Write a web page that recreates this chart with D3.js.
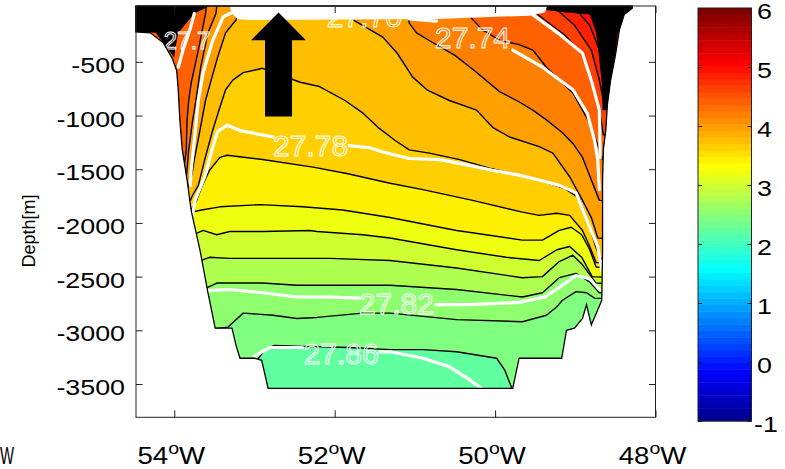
<!DOCTYPE html>
<html><head><meta charset="utf-8">
<script src="https://cdn.jsdelivr.net/npm/d3@7"></script>
<style>body{margin:0;background:#fff}svg{display:block}text{font-family:"Liberation Sans",Arial,sans-serif}</style>
</head><body>
<svg id="c" width="785" height="469"></svg>
<script>
// ---------- data (longitude in degrees West, depth in m) ----------
const lonDomain = [54.477, 48];
const depthDomain = [20, -3810];
const colorDomain = [-1, 6];
const lonTicks = [54, 52, 50, 48];
const depthTicks = [-500, -1000, -1500, -2000, -2500, -3000, -3500];
const colorTicks = [-1, 0, 1, 2, 3, 4, 5, 6];

// bottom / section outline
const section = [[54.48,20],[54.48,-220],[54.30,-230],[54.14,-320],[54.03,-460],[53.97,-580],[53.95,-760],[53.93,-1040],[53.90,-1320],[53.84,-1600],[53.79,-1880],[53.68,-2250],[53.58,-2650],[53.56,-2720],[53.49,-2980],[53.28,-2980],[53.23,-3140],[53.18,-3260],[53.00,-3260],[52.91,-3280],[52.83,-3540],[49.78,-3540],[49.70,-3260],[49.17,-3260],[49.11,-3000],[49.01,-2980],[48.91,-2890],[48.86,-2760],[48.80,-2950],[48.67,-2720],[48.66,-2250],[48.66,-1600],[48.65,-1320],[48.62,-1140],[48.60,-900],[48.56,-670],[48.50,-440],[48.45,-200],[48.39,-60],[48.29,0],[48.29,20]];

// temperature contour levels (deg C) and isotherm traces
const baseLevel = 2.2;
const isoLevels = [2.4, 2.6, 2.8, 3.0, 3.2, 3.4, 3.6, 3.8, 4.0, 4.2, 4.4, 4.6, 4.8, 5.0];
const iso24 = [[53.68,-3290],[52.96,-3270],[52.87,-3180],[52.75,-3140],[52.40,-3150],[51.81,-3160],[51.31,-3180],[50.90,-3180],[50.48,-3200],[49.98,-3260],[49.88,-3370],[49.78,-3560],[49.76,-3840],[47.95,-3840]];
const iso26 = [[53.68,-3000],[53.33,-2970],[53.14,-2840],[52.77,-2860],[52.47,-2890],[52.22,-2880],[51.65,-2840],[51.31,-2840],[50.48,-2900],[49.66,-2920],[49.36,-2860],[49.23,-2780],[49.16,-2720],[48.99,-2640],[48.86,-2650],[48.76,-2700],[47.95,-2720]];
const iso28 = [[54.30,-2620],[53.61,-2610],[53.47,-2560],[52.90,-2560],[52.47,-2580],[52.06,-2580],[51.31,-2580],[50.48,-2620],[49.66,-2690],[49.41,-2650],[49.20,-2510],[48.99,-2470],[48.82,-2550],[48.70,-2650],[47.95,-2670]];
const iso30 = [[54.30,-2360],[53.67,-2350],[53.56,-2320],[53.31,-2330],[52.47,-2330],[52.06,-2330],[51.31,-2350],[50.48,-2420],[49.66,-2510],[49.41,-2500],[49.20,-2360],[49.03,-2300],[48.91,-2390],[48.74,-2560],[47.95,-2580]];
const iso32 = [[54.30,-2110],[53.73,-2100],[53.64,-2070],[53.47,-2110],[53.31,-2080],[52.90,-2080],[52.31,-2070],[52.22,-2080],[51.65,-2110],[51.31,-2140],[50.48,-2250],[49.86,-2320],[49.45,-2350],[49.23,-2250],[49.07,-2220],[48.92,-2320],[48.79,-2500],[47.95,-2530]];
const iso34 = [[54.30,-1900],[53.78,-1900],[53.66,-1880],[53.43,-1850],[52.93,-1830],[52.40,-1850],[51.90,-1880],[51.31,-1950],[50.48,-2070],[49.66,-2160],[49.41,-2160],[49.20,-2070],[49.05,-2040],[48.92,-2110],[48.82,-2250],[48.74,-2410],[47.95,-2440]];
const iso36 = [[54.30,-1860],[53.78,-1870],[53.72,-1790],[53.66,-1670],[53.56,-1510],[53.43,-1390],[53.34,-1370],[52.90,-1410],[52.27,-1480],[51.85,-1540],[51.31,-1630],[50.90,-1690],[50.28,-1790],[49.66,-1900],[49.45,-1930],[49.23,-1910],[49.07,-1930],[48.91,-2070],[48.82,-2220],[48.74,-2370],[47.95,-2400]];
const iso38 = [[54.30,-1790],[53.80,-1790],[53.77,-1740],[53.70,-1650],[53.62,-1410],[53.53,-1160],[53.43,-920],[53.36,-760],[53.27,-670],[53.14,-600],[52.90,-560],[52.68,-620],[52.43,-690],[52.19,-730],[51.87,-860],[51.66,-970],[51.46,-1110],[51.25,-1230],[51.07,-1320],[50.82,-1350],[50.44,-1410],[50.07,-1490],[49.73,-1550],[49.45,-1600],[49.13,-1680],[48.95,-1770],[48.85,-1970],[48.75,-2210],[48.69,-2330],[47.95,-2350]];
const iso40 = [[54.30,-1690],[53.83,-1680],[53.78,-1550],[53.75,-1410],[53.68,-1140],[53.61,-860],[53.54,-670],[53.46,-460],[53.36,-230],[53.23,-110],[53.18,80],[53.18,260],[51.77,260],[51.77,-110],[51.40,-270],[51.22,-420],[51.03,-640],[50.85,-760],[50.57,-860],[50.23,-950],[50.03,-1110],[49.82,-1200],[49.45,-1290],[49.28,-1350],[49.07,-1570],[48.91,-1790],[48.80,-1950],[48.72,-2140],[47.95,-2160]];
const iso42 = [[54.30,-1600],[53.85,-1580],[53.82,-1320],[53.77,-1040],[53.73,-860],[53.67,-550],[53.58,-230],[53.48,-50],[53.46,80],[53.46,260],[51.13,260],[51.07,-140],[50.98,-230],[50.78,-320],[50.50,-440],[50.26,-580],[49.94,-780],[49.73,-860],[49.53,-950],[49.36,-1040],[49.16,-1160],[49.03,-1260],[48.91,-1390],[48.80,-1600],[48.70,-1790],[47.95,-1810]];
const iso44 = [[54.30,-1510],[53.88,-1490],[53.85,-1320],[53.84,-1040],[53.82,-860],[53.79,-700],[53.70,-390],[53.61,-50],[53.59,80],[53.59,260],[50.42,260],[50.35,-50],[50.16,-200],[49.94,-300],[49.70,-340],[49.53,-390],[49.36,-550],[49.20,-670],[49.03,-790],[48.91,-950],[48.82,-1070],[48.74,-1230],[48.66,-1410],[47.95,-1430]];
const iso46 = [[54.60,260],[49.63,260],[49.57,0],[49.38,-110],[49.13,-250],[48.91,-440],[48.79,-720],[48.70,-950],[48.65,-1180],[47.95,-1180]];
const iso48 = [[54.60,260],[49.32,260],[49.25,0],[49.01,-160],[48.80,-390],[48.70,-670],[48.64,-900],[47.95,-900]];
const iso50 = [[54.60,260],[49.07,260],[49.01,0],[48.82,-160],[48.70,-390],[48.61,-670],[47.95,-670]];

// dense near-surface contours (appear black)
const surfaceLeft = [[54.48,20],[53.56,20],[53.75,-50],[53.85,-140],[53.95,-230],[53.99,-390],[54.00,-460],[54.14,-320],[54.23,-230],[54.48,-220]];
const surfaceRight = [[49.41,20],[48.29,20],[48.36,-110],[48.47,-230],[48.51,-480],[48.57,-730],[48.61,-950],[48.66,-950],[48.67,-700],[48.70,-480],[48.74,-230],[48.82,-60],[49.11,-40],[49.35,-20]];
const surfaceWhite = [[53.31,20],[49.35,20],[49.38,-40],[49.57,-70],[50.73,-100],[53.06,-110],[53.21,-100],[53.28,-50]];

// potential density contours (white)
const d2770a = [[53.95,-550],[53.89,-390],[53.80,-190],[53.75,-50]];
const d2770b = [[49.53,-60],[49.22,-230],[48.91,-420],[48.79,-700],[48.70,-950],[48.69,-1390]];
const d2774a = [[53.80,-1650],[53.79,-1510],[53.75,-1230],[53.70,-860],[53.64,-600],[53.52,-300],[53.39,-80],[53.28,-40]];
const d2774b = [[51.07,-100],[50.73,-120]];
const d2774c = [[49.78,-390],[49.41,-550],[49.03,-760],[48.85,-980],[48.76,-1230],[48.72,-1410],[48.70,-1690]];
const d2778a = [[53.79,-1990],[53.74,-1790],[53.62,-1570],[53.53,-1320],[53.46,-1150],[53.34,-1090],[53.18,-1140],[52.77,-1200]];
const d2778b = [[51.82,-1280],[51.56,-1300],[51.40,-1340],[51.07,-1400],[50.69,-1410],[50.35,-1460],[50.03,-1510],[49.73,-1550],[49.45,-1600],[49.20,-1650],[48.99,-1720],[48.82,-2040],[48.72,-2220],[48.67,-2440]];
const d2782a = [[53.57,-2630],[53.31,-2620],[52.90,-2650],[52.47,-2690],[52.06,-2690],[51.69,-2700]];
const d2782b = [[50.74,-2760],[50.32,-2760],[49.70,-2740],[49.38,-2690],[49.20,-2600],[48.99,-2490],[48.82,-2520],[48.70,-2620]];
const d2786a = [[53.00,-3240],[52.81,-3160],[52.40,-3160]];
const d2786b = [[51.44,-3200],[51.31,-3200],[50.90,-3260],[50.57,-3340],[50.32,-3460],[50.17,-3540]];
const densityLabels = ["27.70", "27.74", "27.78", "27.82", "27.86", "27.7"];
const densityLabelPos = [[51.63,-80],[50.28,-270],[52.30,-1280],[51.23,-2750],[51.92,-3220],[53.84,-300]];
const densityLabelSize = [30, 30, 30, 30, 30, 24];

// arrow annotation
const arrowLon = 52.70, arrowTip = -40, arrowHead = -300, arrowTail = -1010;

// ---------- drawing ----------
const svg = d3.select("#c");
const x = d3.scaleLinear().domain(lonDomain).range([136, 655.5]);
const y = d3.scaleLinear().domain(depthDomain).range([6, 417.3]);
const line = d3.line().x(d => x(d[0])).y(d => y(d[1]));

function jet64(i) {
  i = Math.max(0, Math.min(63, i));
  const b = i <= 7 ? (9 + i) / 16 : i <= 23 ? 1 : i <= 39 ? (39 - i) / 16 : 0;
  const g = i <= 7 ? 0 : i <= 23 ? (i - 7) / 16 : i <= 39 ? 1 : i <= 55 ? (55 - i) / 16 : 0;
  const r = i <= 23 ? 0 : i <= 39 ? (i - 23) / 16 : i <= 55 ? 1 : (71 - i) / 16;
  return d3.rgb(r * 255, g * 255, b * 255).formatHex();
}
const cIndex = d3.scaleLinear().domain(colorDomain).range([0, 64]);
const levelColor = v => jet64(Math.floor(cIndex(v) + 1e-9));

const defs = svg.append("defs");
defs.append("clipPath").attr("id", "sec").append("path").attr("d", line(section) + "Z");

const gSec = svg.append("g").attr("clip-path", "url(#sec)");
gSec.append("path").attr("d", line(section) + "Z").attr("fill", levelColor(baseLevel));
const isoLines = [iso24, iso26, iso28, iso30, iso32, iso34, iso36, iso38, iso40, iso42, iso44, iso46, iso48, iso50];
isoLevels.forEach((lv, k) => {
  gSec.append("path")
    .attr("d", line(isoLines[k].concat([[47.8, 600], [54.7, 600]])) + "Z")
    .attr("fill", levelColor(lv));
});
isoLevels.forEach((lv, k) => {
  gSec.append("path").attr("d", line(isoLines[k])).attr("fill", "none")
    .attr("stroke", "#000").attr("stroke-width", 1.4).attr("stroke-linejoin", "round");
});
[surfaceLeft, surfaceRight].forEach(p => gSec.append("path").attr("d", line(p) + "Z").attr("fill", "#000"));
gSec.append("path").attr("d", line(surfaceWhite) + "Z").attr("fill", "#fff");
[d2770a, d2770b, d2774a, d2774b, d2774c, d2778a, d2778b, d2782a, d2782b, d2786a, d2786b].forEach(p => {
  gSec.append("path").attr("d", line(p)).attr("fill", "none").attr("stroke", "#fff")
    .attr("stroke-width", 3.2).attr("stroke-linejoin", "round").attr("stroke-linecap", "round");
});
densityLabels.forEach((t, k) => {
  const p = densityLabelPos[k];
  gSec.append("text").attr("x", x(p[0])).attr("y", y(p[1])).attr("text-anchor", "middle")
    .attr("dominant-baseline", "central").attr("font-size", densityLabelSize[k])
    .attr("fill", "none").attr("stroke", "#fff").attr("stroke-width", 1)
    .text(t);
});
svg.append("path").attr("d", line(section) + "Z").attr("fill", "none")
  .attr("stroke", "#000").attr("stroke-width", 1.3);

// arrow
(function () {
  const ax = x(arrowLon), ty = y(arrowTip), hy = y(arrowHead), by = y(arrowTail);
  const hw = 27.5, sw = 13.5;
  svg.append("path").attr("fill", "#000").attr("d",
    `M${ax},${ty}L${ax + hw},${hy}L${ax + sw},${hy}L${ax + sw},${by}L${ax - sw},${by}L${ax - sw},${hy}L${ax - hw},${hy}Z`);
})();

// frame + ticks
svg.append("rect").attr("x", 136).attr("y", 6).attr("width", 519.5).attr("height", 411.3)
  .attr("fill", "none").attr("stroke", "#222").attr("stroke-width", 1);
function clean(g) { g.select(".domain").remove(); g.selectAll("line").attr("stroke", "#222"); g.selectAll("text").remove(); }
svg.append("g").attr("transform", "translate(136,0)").call(d3.axisLeft(y).tickValues(depthTicks).tickSize(-6.5)).call(clean);
svg.append("g").attr("transform", "translate(655.5,0)").call(d3.axisRight(y).tickValues(depthTicks).tickSize(-6.5)).call(clean);
svg.append("g").attr("transform", "translate(0,417.3)").call(d3.axisBottom(x).tickValues(lonTicks).tickSize(-7)).call(clean);
svg.append("g").attr("transform", "translate(0,6)").call(d3.axisTop(x).tickValues(lonTicks).tickSize(-7)).call(clean);

const SX = 1.22;
function stretched(px, py, anchor, size, str) {
  return svg.append("text").attr("transform", `translate(${px},${py}) scale(${SX},1)`)
    .attr("text-anchor", anchor).attr("font-size", size).attr("fill", "#000").text(str);
}
depthTicks.forEach(v => stretched(125, y(v) + 11, "end", 22, v));
lonTicks.forEach(v => {
  const t = svg.append("text").attr("transform", `translate(${x(v) - 3},464) scale(1.15,1)`)
    .attr("text-anchor", "middle").attr("font-size", 24).attr("fill", "#000");
  t.append("tspan").text(v);
  t.append("tspan").attr("font-size", 17).attr("dy", -10).text("o");
  t.append("tspan").attr("dy", 10).text("W");
});
svg.append("text").attr("transform", "translate(0,464) scale(0.62,1)").attr("text-anchor", "start")
  .attr("font-size", 24).text("W");
svg.append("text").attr("transform", "translate(35,231) rotate(-90)").attr("text-anchor", "middle")
  .attr("font-size", 18).text("Depth[m]");

// colorbar
const cy = d3.scaleLinear().domain(colorDomain).range([421, 8]);
const cb = svg.append("g");
d3.range(64).forEach(i => {
  const v0 = colorDomain[0] + i * 7 / 64, v1 = colorDomain[0] + (i + 1) * 7 / 64;
  cb.append("rect").attr("x", 698).attr("width", 53.5).attr("y", cy(v1)).attr("height", cy(v0) - cy(v1) + 0.5)
    .attr("fill", jet64(i));
});
cb.append("rect").attr("x", 698).attr("y", 8).attr("width", 53.5).attr("height", 413)
  .attr("fill", "none").attr("stroke", "#222");
svg.append("g").attr("transform", "translate(698,0)").call(d3.axisLeft(cy).tickValues(colorTicks).tickSize(-4)).call(clean);
svg.append("g").attr("transform", "translate(751.5,0)").call(d3.axisRight(cy).tickValues(colorTicks).tickSize(-4)).call(clean);
colorTicks.forEach(v => stretched(v < 0 ? 754 : 757, cy(v) + 11, "start", 22, v));
</script>
</body></html>
